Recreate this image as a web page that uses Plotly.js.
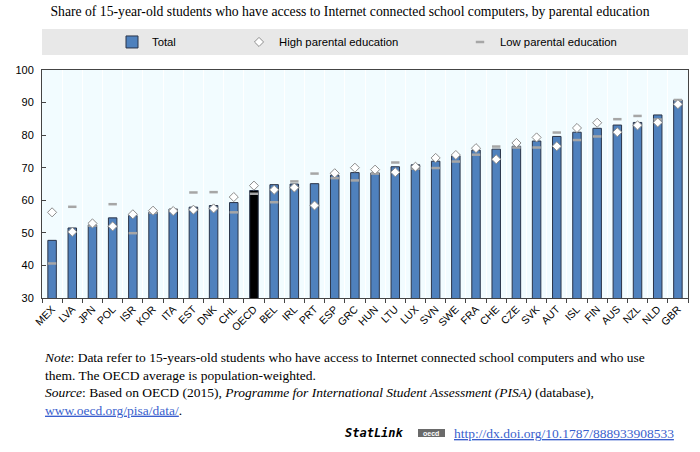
<!DOCTYPE html>
<html>
<head>
<meta charset="utf-8">
<script src="https://cdn.plot.ly/plotly-3.0.1.min.js"></script>
<style>html,body{margin:0;padding:0;background:#fff;}#chart{width:700px;height:452px;}</style>
</head>
<body>
<div id="chart"></div>
<script>
const countries = ["MEX","LVA","JPN","POL","ISR","KOR","ITA","EST","DNK","CHL","OECD","BEL","IRL","PRT","ESP","GRC","HUN","LTU","LUX","SVN","SWE","FRA","CHE","CZE","SVK","AUT","ISL","FIN","AUS","NZL","NLD","GBR"];
const total = [47.7,51.5,52.4,54.6,55.3,56.3,57.3,57.9,58.4,59.3,63.0,64.8,65.0,65.1,67.7,68.5,68.4,70.3,70.9,72.0,73.6,75.4,75.7,76.6,78.2,79.6,80.9,82.1,83.1,83.9,86.2,90.8];
const highEdu = [56.3,50.3,52.9,52.0,55.7,56.8,56.7,57.1,57.5,61.0,64.5,63.2,63.9,58.4,68.3,70.0,69.4,68.6,70.3,73.0,73.9,76.0,72.6,77.6,79.3,76.6,82.2,83.8,80.9,83.0,83.9,89.5];
const lowEdu = [40.6,58.0,52.2,58.8,49.9,56.2,57.1,62.4,62.5,56.3,62.0,59.4,65.8,68.2,66.8,66.1,68.2,71.6,69.7,69.9,71.9,74.0,76.5,76.2,76.2,80.8,78.5,79.6,84.9,85.9,84.8,90.8];

const barColors = countries.map(c => c === "OECD" ? "#000000" : "#4f81bd");

const traces = [
  {type:"bar", name:"Total", x:countries, y:total, width:0.42,
   marker:{color:barColors, line:{color:"#2a3448", width:1}}, legend:"legend"},
  {type:"scatter", mode:"markers", name:"Low parental education", x:countries, y:lowEdu, cliponaxis:false,
   marker:{symbol:"line-ew", size:6, line:{color:"#a6a6a6", width:2.5}}, legend:"legend3"},
  {type:"scatter", mode:"markers", name:"High parental education", x:countries, y:highEdu, cliponaxis:false,
   marker:{symbol:"diamond", size:7, color:"#ffffff", line:{color:"#8c8c8c", width:1}}, legend:"legend2"}
];

const legFont = {family:"Liberation Sans, Arial, sans-serif", size:11.3, color:"#000"};
const legBase = {orientation:"h", yanchor:"middle", y:1.123, xanchor:"left", bgcolor:"rgba(0,0,0,0)", font:legFont};

const layout = {
  width:700, height:452,
  margin:{l:42, r:12, t:70, b:154},
  paper_bgcolor:"#ffffff",
  plot_bgcolor:"#f2fcff",
  font:{family:"Liberation Sans, Arial, sans-serif", size:11, color:"#000"},
  showlegend:true,
  title:{text:"Share of 15-year-old students who have access to Internet connected school computers, by parental education",
         font:{family:"Liberation Serif, Times New Roman, serif", size:13.7, color:"#000"},
         x:0.5, xref:"container", y:0.976, yanchor:"middle"},
  legend:Object.assign({}, legBase, {x:(112-42)/646}),
  legend2:Object.assign({}, legBase, {x:(239-42)/646}),
  legend3:Object.assign({}, legBase, {x:(460-42)/646}),
  xaxis:{type:"category", range:[-0.5, countries.length-0.5], tickangle:-45, tickson:"boundaries", ticks:"outside", ticklen:4, tickcolor:"#444",
         showgrid:true, gridcolor:"#ffffff", gridwidth:1,
         showline:true, linecolor:"#444", linewidth:1, mirror:true,
         tickfont:{family:"Liberation Sans, Arial, sans-serif", size:10.5, color:"#000"}},
  yaxis:{range:[30,100], dtick:10, ticks:"inside", ticklen:4, tickcolor:"#444", ticklabelstandoff:5,
         showgrid:false, zeroline:false,
         showline:true, linecolor:"#444", linewidth:1, mirror:true,
         tickfont:{family:"Liberation Sans, Arial, sans-serif", size:11, color:"#000"}},
  shapes:[
    {type:"rect", xref:"paper", yref:"paper", x0:0, x1:1, y0:1+(298-55-228)/228, y1:1+(298-29-228)/228,
     fillcolor:"#e8e8e8", line:{width:0}, layer:"below"},
    {type:"rect", xref:"paper", yref:"paper", x0:(418-42)/646, x1:(445-42)/646, y0:(298-437)/228, y1:(298-429)/228,
     fillcolor:"#6a6a6a", line:{width:0}}
  ],
  annotations:[
    {xref:"paper", yref:"paper", x:0, y:(298-348)/228, xanchor:"left", yanchor:"top", align:"left", showarrow:false,
     font:{family:"Liberation Serif, Times New Roman, serif", size:13.5, color:"#000"},
     text:"<i>Note</i>: Data refer to 15-years-old students who have access to Internet connected school computers and who use<br>them. The OECD average is population-weighted.<br><i>Source</i>: Based on OECD (2015), <i>Programme for International Student Assessment (PISA)</i> (database),<br><span style='color:#3a5fcd'><u>www.oecd.org/pisa/data/</u></span>."},
    {xref:"paper", yref:"paper", x:(343-42)/646, y:(298-433)/228, xanchor:"left", yanchor:"middle", showarrow:false,
     font:{family:"DejaVu Sans Mono, monospace", size:12, color:"#000"},
     text:"<b><i>StatLink</i></b>"},
    {xref:"paper", yref:"paper", x:(431-42)/646, y:(298-433)/228, xanchor:"center", yanchor:"middle", showarrow:false,
     font:{family:"Liberation Sans, Arial, sans-serif", size:7, color:"#fff"},
     text:"<b>oecd</b>"},
    {xref:"paper", yref:"paper", x:(452-42)/646, y:(298-433)/228, xanchor:"left", yanchor:"middle", showarrow:false,
     font:{family:"Liberation Serif, Times New Roman, serif", size:13.5, color:"#3a5fcd"},
     text:"<u>http://dx.doi.org/10.1787/888933908533</u>"}
  ]
};

Plotly.newPlot("chart", traces, layout, {staticPlot:true, displayModeBar:false});
</script>
</body>
</html>
